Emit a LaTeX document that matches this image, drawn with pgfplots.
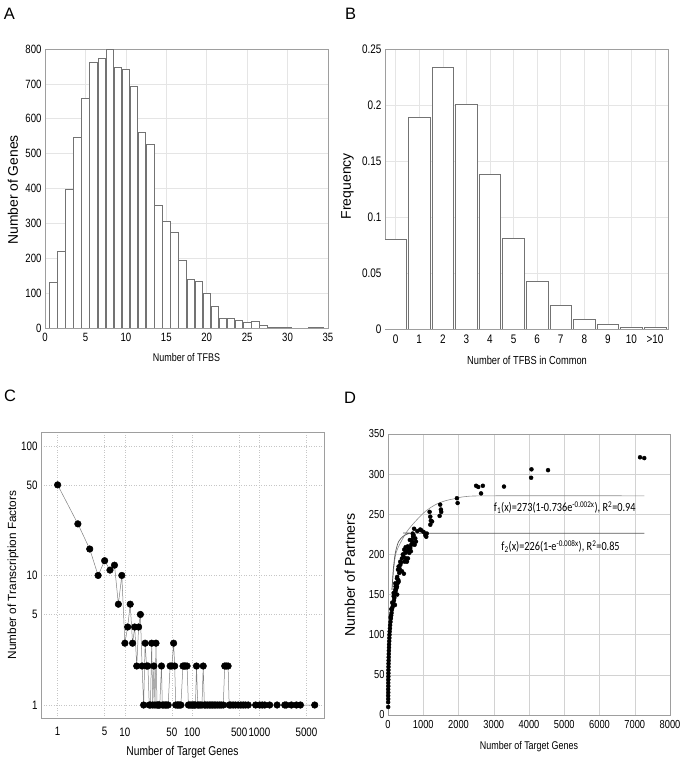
\documentclass[border=0pt]{standalone}
\usepackage{fontspec}
\setmainfont{Liberation Sans}
\newfontfamily\nf[FakeStretch=0.8]{Liberation Sans}
\newfontfamily\cf[FakeStretch=0.82]{Carlito}
\usepackage{graphicx}
\usepackage{pgfplots}
\pgfplotsset{compat=1.18}
\definecolor{framec}{gray}{0.62}
\definecolor{gridc}{gray}{0.9}
\definecolor{barc}{gray}{0.45}
\pgfplotsset{
  panel/.style={
    scale only axis,
    axis line style={draw=framec, line width=0.6pt},
    grid=major,
    major grid style={draw=gridc, line width=0.5pt},
    major tick length=0pt, minor tick length=0pt,
    /pgf/number format/assume math mode=true,
    /pgf/number format/set thousands separator={},
    scaled ticks=false,
    xticklabel style={yshift=-2pt},
  },
}
\begin{document}
\begin{tikzpicture}
\path[use as bounding box] (0,0) rectangle (685pt,760pt);
% ---------------- A ----------------
\begin{axis}[panel, at={(45pt,432pt)}, anchor=south west, width=283pt, height=279pt,
  xmin=0, xmax=35, ymin=0, ymax=800,
  xtick={0,5,...,35}, ytick={0,100,...,800},
  tick label style={font=\nf\fontsize{12}{14}\selectfont},
  ybar, bar width=0.92,
  xlabel={Number of TFBS}, ylabel={Number of Genes},
  xlabel style={at={(axis description cs:0.5,-0.104)}, anchor=center, font=\nf\fontsize{11.2}{13}\selectfont},
  ylabel style={at={(axis description cs:-0.113,0.495)}, anchor=center, font=\fontsize{13.9}{16}\selectfont},
]
\addplot[draw=barc, fill=white, line width=0.6pt] coordinates {
(1,132) (2,221) (3,398) (4,548) (5,659) (6,763) (7,774) (8,800) (9,748) (10,743)
(11,694) (12,561) (13,528) (14,351) (15,307) (16,274) (17,195) (18,139) (19,134) (20,99)
(21,62) (22,29) (23,27) (24,22) (25,15) (26,18) (27,8) (28,3) (29,1) (30,2) (33,2) (34,2)
};
\end{axis}
% ---------------- B ----------------
\begin{axis}[panel, at={(385pt,431pt)}, anchor=south west, width=283pt, height=280pt,
  xmin=-0.45, xmax=11.55, ymin=0, ymax=0.25,
  xtick={0,...,11}, xticklabels={0,1,2,3,4,5,6,7,8,9,10,>10},
  ytick={0,0.05,0.1,0.15,0.2,0.25},
  yticklabel style={/pgf/number format/fixed, /pgf/number format/precision=2},
  tick label style={font=\nf\fontsize{12.4}{14}\selectfont},
  ybar, bar width=0.92,
  xlabel={Number of TFBS in Common}, ylabel={Frequency},
  xlabel style={at={(axis description cs:0.502,-0.111)}, anchor=center, font=\nf\fontsize{11.6}{13}\selectfont},
  ylabel style={at={(axis description cs:-0.1325,0.51)}, anchor=center, font=\fontsize{14}{16}\selectfont},
]
\addplot[draw=barc, fill=white, line width=0.6pt] coordinates {
(0,0.080) (1,0.1887) (2,0.234) (3,0.2006) (4,0.138) (5,0.081) (6,0.0426) (7,0.0208)
(8,0.0089) (9,0.0045) (10,0.0018) (11,0.0012)
};
\end{axis}
% ---------------- C ----------------
\begin{axis}[panel, at={(41pt,42pt)}, anchor=south west, width=283pt, height=286pt,
  xmode=log, ymode=log, xmin=0.566, xmax=9120, ymin=0.794, ymax=128,
  xtick={1,5,10,50,100,500,1000,5000}, xticklabels={1,5,10,50,100,500,1000,5000},
  ytick={1,5,10,50,100}, yticklabels={1,5,10,50,100},
  major grid style={draw=gray!45, dotted, line width=0.5pt},
  tick label style={font=\nf\fontsize{12.2}{14}\selectfont},
  xticklabel style={yshift=-4pt},
  xlabel={Number of Target Genes}, ylabel={Number of Transcription Factors},
  xlabel style={at={(axis description cs:0.5,-0.119)}, anchor=center, font=\nf\fontsize{12.8}{14}\selectfont},
  ylabel style={at={(axis description cs:-0.099,0.5)}, anchor=center, font=\fontsize{11.8}{14}\selectfont},
]
\addplot[draw=gray, line width=0.5pt, mark=*, mark size=3.3pt, mark options={fill=black, draw=black}] coordinates {
(1,50) (2,25) (3,16) (4,10) (5,13) (6,11) (7,12) (8,6) (9,10) (10,3) (11,4) (12,6) (13,3)
(14,4) (15,2) (16,4) (17,5) (18,2) (19,1) (20,3) (21,2) (22,2) (23,1) (24,1) (25,3) (26,1)
(27,2) (28,1) (29,3) (30,1) (31,1) (32,1) (33,1) (35,2) (36,1) (38,1) (40,1) (42,1) (44,1)
(47,2) (50,2) (53,3) (55,2) (57,1) (60,1) (62,1) (65,1) (68,1) (73,2) (76,2) (79,2) (84,2)
(88,1) (92,1) (96,1) (100,1) (104,1) (108,1) (112,1) (116,2) (121,1) (126,1) (132,1) (140,1)
(146,2) (152,1) (160,1) (170,1) (180,1) (190,1) (200,1) (212,1) (225,1) (240,1) (255,1)
(270,1) (290,1) (305,2) (320,2) (342,2) (355,1) (375,1) (406,1) (440,1) (482,1) (530,1)
(573,1) (620,1) (680,1) (880,1) (1010,1) (1100,1) (1200,1) (1420,1) (1830,1) (2380,1)
(2500,1) (2990,1) (3550,1) (4070,1) (6640,1)
};
\end{axis}
% ---------------- D ----------------
\begin{axis}[panel, at={(388pt,45pt)}, anchor=south west, width=282pt, height=281pt,
  xmin=0, xmax=8000, ymin=0, ymax=350,
  xtick={0,1000,...,8000}, ytick={0,50,...,350},
  major grid style={draw=gray!35, line width=0.5pt},
  tick label style={font=\nf\fontsize{11.6}{13}\selectfont},
  xticklabel style={yshift=0pt},
  xlabel={Number of Target Genes}, ylabel={Number of Partners},
  xlabel style={at={(axis description cs:0.5,-0.114)}, anchor=center, font=\nf\fontsize{11.2}{13}\selectfont},
  ylabel style={at={(axis description cs:-0.135,0.498)}, anchor=center, font=\fontsize{14.1}{16}\selectfont},
]
\addplot[only marks, mark=*, mark size=2pt, black] coordinates {
(5,10) (4,16) (6,20) (5,24) (7,28) (6,32) (8,36) (7,40) (9,44) (10,48) (11,52) (12,56)
(14,60) (15,64) (18,68) (20,72) (22,76) (25,80) (28,84) (30,88) (34,92) (38,96) (42,100)
(48,104) (55,108) (60,112) (70,116) (75,122) (80,120) (90,124) (95,132) (100,127) (110,131) (125,134)
(120,140) (140,137) (198,137) (150,140) (170,143) (160,148) (180,146) (160,152) (185,150) (200,152)
(260,150) (220,155) (207,156) (215,160)
(240,158) (254,160) (230,162) (207,164) (270,164) (301,166) (254,170) (260,172) (293,168) (320,177)
(330,182) (370,190) (396,179) (450,176) (283,181) (301,185) (349,187) (349,191) (472,191) (538,191) (396,195)
(420,200) (460,206) (500,209) (509,195) (566,195) (443,197) (490,202) (603,202) (538,204) (560,210)
(584,206) (632,208) (650,204) (660,212) (620,218) (690,215) (710,222)
(754,212) (679,218) (792,216) (773,220) (726,224) (700,226) (740,232) (830,229) (915,231) (945,230)
(1010,228) (1057,224) (1085,222) (1100,226) (1180,253) (1200,247) (1215,242) (1200,237) (1250,241)
(1480,262) (1500,256) (1510,253) (1465,248) (1955,270) (1975,264) (2500,285.5) (2560,284)
(2640,276) (2690,285.5) (3290,284.5) (4060,295.5) (4070,306) (4540,305) (7150,321) (7270,320)
};
\addplot[draw=black!45, line width=0.6pt, smooth] coordinates {
(113,156) (160,181) (226,201.6) (349,214) (538,228.5) (773,241) (1057,253.5) (1340,261.8)
(1623,266.8) (1955,270) (2190,272) (2900,273) (7271,273)
};
\addplot[draw=black!65, line width=0.7pt, smooth] coordinates {
(113,156) (150,181) (207,201.6) (301,216) (442,223) (632,226.5) (900,226.5) (7271,226.5)
};
\node[font=\cf\fontsize{12.5}{14}\selectfont] at (axis cs:5014,258) {f\textsubscript{1}(x)=273(1-0.736e\textsuperscript{-0.002x}), R\textsuperscript{2}=0.94};
\node[font=\cf\fontsize{12.5}{14}\selectfont] at (axis cs:4895,210) {f\textsubscript{2}(x)=226(1-e\textsuperscript{-0.008x}), R\textsuperscript{2}=0.85};
\end{axis}
% ---------------- panel letters ----------------
\node[font=\fontsize{16.5}{18}\selectfont] at (9.5pt,746pt) {A};
\node[font=\fontsize{16.5}{18}\selectfont] at (350.5pt,746pt) {B};
\node[font=\fontsize{16.5}{18}\selectfont] at (10pt,364pt) {C};
\node[font=\fontsize{16.5}{18}\selectfont] at (350pt,362.5pt) {D};
\end{tikzpicture}
\end{document}
